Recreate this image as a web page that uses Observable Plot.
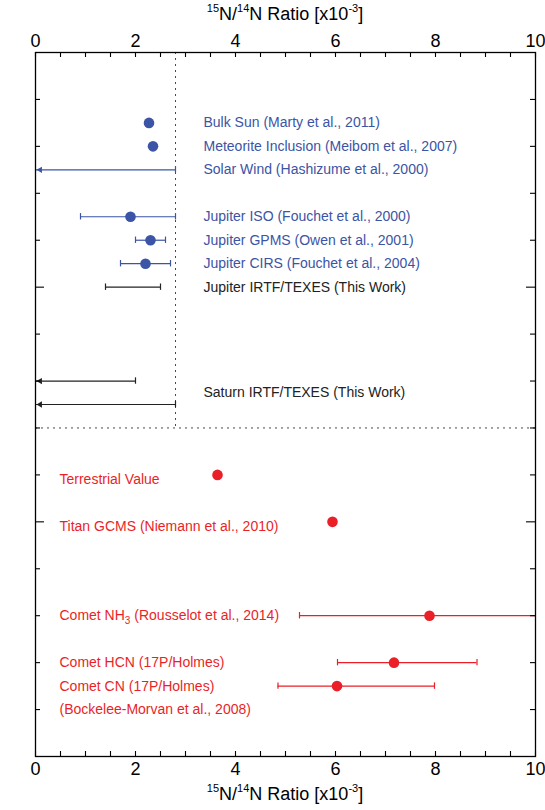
<!DOCTYPE html>
<html><head><meta charset="utf-8">
<script src="https://cdn.jsdelivr.net/npm/d3@7"></script>
<script src="https://cdn.jsdelivr.net/npm/@observablehq/plot@0.6"></script>
<style>
body{margin:0;background:#fff;font-family:"Liberation Sans",Arial,Helvetica,sans-serif;}
#wrap{width:545px;height:810px;overflow:hidden;}
.ttl{width:545px;box-sizing:border-box;padding-left:35px;padding-right:10px;text-align:center;font-size:18px;color:#000;white-space:nowrap;}
.ttl sup{font-size:11px;vertical-align:baseline;position:relative;top:-0.7em;}
#top{height:26px;line-height:28px;}
#bot{height:30px;line-height:28px;}
#chart svg{display:block;}
</style></head><body>
<div id="wrap">
<div class="ttl" id="top"><sup>15</sup>N/<sup>14</sup>N Ratio [x10<sup>-3</sup>]</div>
<div id="chart"></div>
<div class="ttl" id="bot"><sup>15</sup>N/<sup>14</sup>N Ratio [x10<sup>-3</sup>]</div>
</div>
<script>
// ---- data (15N/14N ratio, x10^-3) ----
const names = [
  "Bulk Sun (Marty et al., 2011)",
  "Meteorite Inclusion (Meibom et al., 2007)",
  "Solar Wind (Hashizume et al., 2000)",
  "Jupiter ISO (Fouchet et al., 2000)",
  "Jupiter GPMS (Owen et al., 2001)",
  "Jupiter CIRS (Fouchet et al., 2004)",
  "Jupiter IRTF/TEXES (This Work)",
  "Saturn IRTF/TEXES (This Work)",
  "Saturn IRTF/TEXES (This Work)",
  "Terrestrial Value",
  "Titan GCMS (Niemann et al., 2010)",
  "Comet NH3 (Rousselot et al., 2014)",
  "Comet HCN (17P/Holmes)",
  "Comet CN (17P/Holmes)"
];
const rows     = [3, 4, 5, 7, 8, 9, 10, 14, 15, 18, 20, 24, 26, 27];
const ratios   = [2.27, 2.35, null, 1.9, 2.3, 2.2, null, null, null, 3.64, 5.94, 7.88, 7.17, 6.03];
const lows     = [null, null, null, 0.9, 2.0, 1.7, 1.4, null, null, null, null, 5.28, 6.04, 4.85];
const highs    = [null, null, 2.8, 2.8, 2.6, 2.7, 2.5, 2.0, 2.8, null, null, 10.5, 8.83, 7.98];
const upperLimit = [false, false, true, false, false, false, false, true, true, false, false, false, false, false];
const groups   = ["sun", "sun", "sun", "jupiter", "jupiter", "jupiter", "work", "work", "work", "inner", "inner", "comet", "comet", "comet"];
const notes = ["(Bockelee-Morvan et al., 2008)"];
const noteRows = [28];
const solarWindLimit = 2.8;
const dividerRow = 16;
const xTickLabels = [0, 2, 4, 6, 8, 10];
const xTicks = [0, 0.5, 1, 1.5, 2, 2.5, 3, 3.5, 4, 4.5, 5, 5.5, 6, 6.5, 7, 7.5, 8, 8.5, 9, 9.5, 10];
const yMinorTicks = [2, 4, 6, 8, 12, 14, 16, 18, 22, 24, 26, 28];
const yMajorTicks = [10, 20];

// ---- build ----
const BLUE = "#3b54a5", RED = "#ea1f27", DARK = "#222222";
const colorOf = {sun: BLUE, jupiter: BLUE, work: DARK, inner: RED, comet: RED};
const labelX = {sun: 3.36, jupiter: 3.36, work: 3.36, inner: 0.48, comet: 0.48};

const data = names.map((name, i) => ({
  name, row: rows[i], ratio: ratios[i], low: lows[i], high: highs[i],
  limit: upperLimit[i], group: groups[i]
}));
const labels = [];
for (const g of d3.groups(data, d => d.name)) {
  const items = g[1];
  labels.push({text: g[0], row: d3.mean(items, d => d.row), group: items[0].group});
}
notes.forEach((t, i) => labels.push({text: t, row: noteRows[i], group: "comet"}));

const W = 545, H = 754, mT = 26, mB = 24, mL = 35, mR = 10;
const innerW = W - mL - mR, innerH = H - mT - mB;
const pxPerRow = innerH / 30;
const capHalf = 3.2 / pxPerRow;
const labelShift = 5 / pxPerRow; // inner-planet labels sit slightly below their points

const bars = data.filter(d => d.high != null);
const pts = data.filter(d => d.ratio != null);
const col = d => colorOf[d.group];

const chart = Plot.plot({
  width: W, height: H,
  marginTop: mT, marginBottom: mB, marginLeft: mL, marginRight: mR,
  style: {fontFamily: '"Liberation Sans", Arial, Helvetica, sans-serif', background: "#fff"},
  x: {domain: [0, 10]},
  y: {domain: [0, 30], reverse: true, axis: null},
  marks: [
    Plot.ruleX([solarWindLimit], {x: d => d, y1: 0, y2: dividerRow, stroke: "#333", strokeWidth: 0.9, strokeDasharray: "2,4"}),
    Plot.ruleY([dividerRow], {y: d => d, stroke: "#333", strokeWidth: 0.9, strokeDasharray: "2,4"}),
    Plot.ruleY(bars, {y: "row", x1: d => d.limit ? 0 : d.low, x2: "high", stroke: col, strokeWidth: 1.2, clip: true}),
    Plot.ruleX(bars.filter(d => !d.limit), {x: "low", y1: d => d.row - capHalf, y2: d => d.row + capHalf, stroke: col, strokeWidth: 1.2}),
    Plot.ruleX(bars.filter(d => d.high <= 10), {x: "high", y1: d => d.row - capHalf, y2: d => d.row + capHalf, stroke: col, strokeWidth: 1.2}),
    Plot.dot(bars.filter(d => d.limit), {x: () => 0, y: "row", symbol: "triangle2", r: 3, rotate: -90, dx: 4.6, fill: col, stroke: "none"}),
    Plot.dot(pts, {x: "ratio", y: "row", r: 5.3, fill: col, stroke: "none"}),
    Plot.text(labels, {x: d => labelX[d.group], y: d => d.group === "inner" ? d.row + labelShift : d.row,
      text: "text", textAnchor: "start", fontSize: 14, fill: col}),
    Plot.frame({stroke: "#000", strokeWidth: 1.3}),
    Plot.tickX(xTicks, {x: d => d, insetBottom: innerH - 5, strokeWidth: 1.1}),
    Plot.tickX(xTicks, {x: d => d, insetTop: innerH - 5, strokeWidth: 1.1}),
    Plot.tickY(yMinorTicks, {y: d => d, insetRight: innerW - 5, strokeWidth: 1.1}),
    Plot.tickY(yMinorTicks, {y: d => d, insetLeft: innerW - 5, strokeWidth: 1.1}),
    Plot.tickY(yMajorTicks, {y: d => d, insetRight: innerW - 9, strokeWidth: 1.1}),
    Plot.tickY(yMajorTicks, {y: d => d, insetLeft: innerW - 9, strokeWidth: 1.1}),
    Plot.axisX(xTickLabels, {anchor: "top", tickSize: 0, tickPadding: 6, fontSize: 18, label: null}),
    Plot.axisX(xTickLabels, {anchor: "bottom", tickSize: 0, tickPadding: 6, fontSize: 18, label: null})
  ]
});
document.getElementById("chart").appendChild(chart);

// subscript for NH3
chart.querySelectorAll("text").forEach(t => {
  if (t.textContent === "Comet NH3 (Rousselot et al., 2014)") {
    t.textContent = "";
    const ns = "http://www.w3.org/2000/svg";
    const a = document.createElementNS(ns, "tspan"); a.textContent = "Comet NH";
    const b = document.createElementNS(ns, "tspan"); b.textContent = "3"; b.setAttribute("dy", "4"); b.setAttribute("font-size", "10");
    const c = document.createElementNS(ns, "tspan"); c.textContent = " (Rousselot et al., 2014)"; c.setAttribute("dy", "-4");
    t.append(a, b, c);
  }
});
</script>
</body></html>
